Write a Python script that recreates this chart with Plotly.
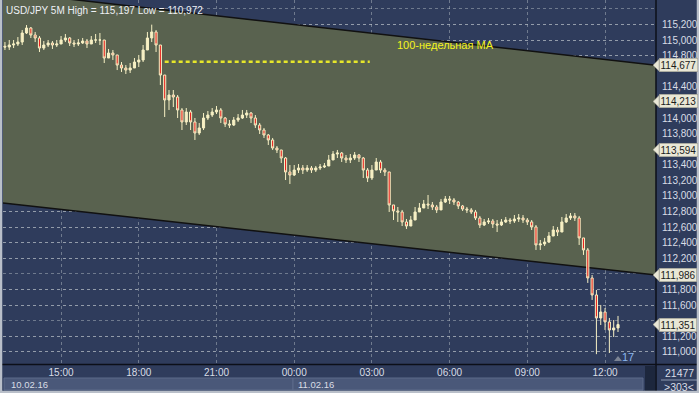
import plotly.graph_objects as go
import pandas as pd

# ---------------- data (USD/JPY, 10-minute candles) ----------------
start_time = "2016-02-10 12:50"
first_open = 114.92
close = [114.910, 114.936, 114.949, 114.974, 115.090, 115.154, 115.064, 115.026, 114.897, 114.936,
         114.962, 114.936, 114.949, 115.000, 115.026, 114.962, 114.949, 114.962, 114.987, 114.949,
         115.000, 115.000, 115.000, 114.769, 114.833, 114.808, 114.679, 114.641, 114.615, 114.641,
         114.718, 114.744, 114.872, 115.026, 115.103, 114.936, 114.551, 114.231, 114.295, 114.269,
         114.103, 113.949, 114.077, 113.949, 113.808, 113.872, 114.000, 114.038, 114.077, 114.103,
         114.000, 113.923, 113.910, 113.974, 114.000, 114.038, 114.064, 114.000, 113.910, 113.846,
         113.782, 113.718, 113.615, 113.590, 113.487, 113.308, 113.269, 113.333, 113.359, 113.333,
         113.359, 113.333, 113.359, 113.372, 113.385, 113.462, 113.538, 113.551, 113.487, 113.462,
         113.487, 113.526, 113.487, 113.333, 113.231, 113.333, 113.436, 113.333, 113.308, 112.885,
         112.808, 112.795, 112.667, 112.615, 112.692, 112.795, 112.846, 112.897, 112.885, 112.859,
         112.821, 112.923, 112.962, 112.949, 112.923, 112.872, 112.833, 112.821, 112.795, 112.718,
         112.628, 112.667, 112.679, 112.641, 112.628, 112.667, 112.692, 112.679, 112.705, 112.718,
         112.692, 112.667, 112.603, 112.372, 112.385, 112.410, 112.487, 112.564, 112.538, 112.667,
         112.718, 112.744, 112.718, 112.462, 112.308, 111.949, 111.731, 111.436, 111.513, 111.385,
         111.282, 111.308, 111.351]
high = [114.974, 115.000, 115.000, 115.038, 115.128, 115.192, 115.167, 115.103, 115.051, 114.987,
        115.000, 114.987, 115.000, 115.051, 115.077, 115.038, 115.000, 115.013, 115.026, 115.013,
        115.051, 115.077, 115.090, 115.000, 114.885, 114.872, 114.808, 114.718, 114.679, 114.705,
        114.769, 114.808, 114.936, 115.103, 115.197, 115.128, 114.936, 114.551, 114.359, 114.359,
        114.295, 114.128, 114.128, 114.103, 114.000, 113.936, 114.064, 114.090, 114.128, 114.154,
        114.128, 114.013, 113.974, 114.013, 114.051, 114.103, 114.103, 114.077, 114.038, 113.936,
        113.872, 113.795, 113.744, 113.641, 113.590, 113.500, 113.397, 113.397, 113.410, 113.397,
        113.397, 113.385, 113.385, 113.410, 113.423, 113.526, 113.577, 113.590, 113.564, 113.526,
        113.538, 113.564, 113.538, 113.500, 113.359, 113.397, 113.487, 113.462, 113.359, 113.308,
        112.885, 112.859, 112.821, 112.705, 112.744, 112.859, 112.910, 112.949, 113.013, 112.923,
        112.885, 112.962, 113.000, 113.000, 112.974, 112.936, 112.885, 112.859, 112.846, 112.821,
        112.744, 112.705, 112.718, 112.705, 112.692, 112.705, 112.731, 112.718, 112.756, 112.769,
        112.756, 112.718, 112.692, 112.628, 112.436, 112.462, 112.538, 112.615, 112.603, 112.731,
        112.769, 112.782, 112.782, 112.744, 112.462, 112.333, 111.987, 111.795, 111.603, 111.564,
        111.436, 111.410, 111.462]
low = [114.872, 114.872, 114.897, 114.923, 114.936, 115.077, 115.026, 114.974, 114.846, 114.872,
       114.910, 114.885, 114.910, 114.949, 114.974, 114.923, 114.910, 114.923, 114.949, 114.897,
       114.949, 114.962, 114.936, 114.705, 114.769, 114.744, 114.615, 114.590, 114.564, 114.577,
       114.641, 114.654, 114.718, 114.872, 114.974, 114.846, 114.423, 114.013, 114.103, 114.141,
       114.000, 113.846, 113.910, 113.846, 113.718, 113.782, 113.846, 113.974, 114.013, 114.051,
       113.936, 113.885, 113.872, 113.897, 113.949, 113.987, 114.000, 113.936, 113.872, 113.795,
       113.744, 113.654, 113.590, 113.551, 113.423, 113.205, 113.154, 113.256, 113.295, 113.282,
       113.308, 113.295, 113.308, 113.333, 113.359, 113.397, 113.462, 113.487, 113.436, 113.423,
       113.423, 113.462, 113.436, 113.231, 113.179, 113.205, 113.333, 113.295, 113.256, 112.795,
       112.692, 112.667, 112.615, 112.577, 112.628, 112.718, 112.795, 112.846, 112.833, 112.821,
       112.782, 112.859, 112.910, 112.897, 112.885, 112.833, 112.808, 112.782, 112.769, 112.692,
       112.590, 112.615, 112.641, 112.590, 112.538, 112.615, 112.654, 112.641, 112.654, 112.667,
       112.654, 112.628, 112.564, 112.308, 112.308, 112.359, 112.397, 112.500, 112.487, 112.590,
       112.654, 112.692, 112.679, 112.372, 112.244, 111.885, 111.667, 110.972, 111.346, 111.282,
       110.987, 111.192, 111.256]

levels = [114.213, 113.594]                       # red dashed horizontal levels
tag_values = [114.677, 114.213, 113.594, 111.986, 111.351]
# price-axis labels that stay visible (the others sit under the price tags)
y_tick_values = [115.2, 115.0, 114.8, 114.4, 114.0, 113.8, 113.4, 113.2, 113.0,
                 112.8, 112.6, 112.4, 112.2, 111.8, 111.6, 111.2, 111.0]
channel_times = ["2016-02-10 12:45:30", "2016-02-11 13:58:00"]
channel_upper = [115.62, 114.677]
channel_lower = [112.91, 111.986]
ma_value = 114.72
ma_times = ["2016-02-10 19:00", "2016-02-11 02:55"]
ma_label = "100-недельная МА"
title_text = "USD/JPY 5M High = 115,197 Low = 110,972"
date_labels = ["10.02.16", "11.02.16"]
bar_count_label = "17"
panel_texts = ["21477", ">303<"]

# ---------------- build ----------------
times = pd.date_range(start_time, periods=len(close), freq="10min")
opens = [first_open] + close[:-1]
highs = [max(h, o, c) for h, o, c in zip(high, opens, close)]
lows = [min(l, o, c) for l, o, c in zip(low, opens, close)]

W, H = 699, 393
ML, MR, MT, MB = 3, 43, 0, 28
PW, PH = W - ML - MR, H - MT - MB


def px(x):
    return (x - ML) / PW


def py(y):
    return (H - MB - y) / PH


NAVY = "#2f3c5c"
GREEN = "#59624f"
CREAM = "#f7f0c4"
RED = "#e8231f"
TXT = "#d9dde6"
GRID = "rgba(190,198,205,0.45)"
FONT = "Liberation Sans, Arial"

fig = go.Figure()
fig.add_trace(go.Candlestick(
    x=times, open=opens, high=highs, low=lows, close=close,
    increasing=dict(line=dict(color=CREAM, width=1), fillcolor=CREAM),
    decreasing=dict(line=dict(color=CREAM, width=1), fillcolor=RED),
    whiskerwidth=0, showlegend=False, hoverinfo="skip"))

shapes = []
d = lambda s: s.replace(" ", "_")
path = (f"M {d(channel_times[0])},{channel_upper[0]} L {d(channel_times[1])},{channel_upper[1]} "
        f"L {d(channel_times[1])},{channel_lower[1]} L {d(channel_times[0])},{channel_lower[0]} Z")
shapes.append(dict(type="path", xref="x", yref="y", path=path, fillcolor=GREEN,
                   line=dict(width=0), layer="between"))
for arr in (channel_upper, channel_lower):
    shapes.append(dict(type="line", xref="x", yref="y", x0=channel_times[0], x1=channel_times[1],
                       y0=arr[0], y1=arr[1], line=dict(color="#111111", width=1.5), layer="between"))
for lv in levels:
    shapes.append(dict(type="line", xref="paper", yref="y", x0=0, x1=1, y0=lv, y1=lv,
                       line=dict(color=RED, width=2, dash="4px,4px"), layer="between"))
shapes.append(dict(type="line", xref="x", yref="y", x0=ma_times[0], x1=ma_times[1],
                   y0=ma_value, y1=ma_value, line=dict(color="#e6e62a", width=2.5, dash="4px,3px"),
                   layer="between"))

# frame: separators and border
shapes.append(dict(type="line", xref="paper", yref="paper", x0=px(656), x1=px(656), y0=py(0), y1=py(393),
                   line=dict(color="#0c0f18", width=1.5)))
shapes.append(dict(type="line", xref="paper", yref="paper", x0=px(0), x1=px(699), y0=py(364.5), y1=py(364.5),
                   line=dict(color="#0c0f18", width=1.5)))
shapes.append(dict(type="rect", xref="paper", yref="paper", x0=px(4), x1=px(293), y0=py(378), y1=py(390),
                   fillcolor="#4a5879", line=dict(color="#5d6b8a", width=1)))
shapes.append(dict(type="rect", xref="paper", yref="paper", x0=px(293), x1=px(643), y0=py(378), y1=py(390),
                   fillcolor="#4a5879", line=dict(color="#5d6b8a", width=1)))
shapes.append(dict(type="rect", xref="paper", yref="paper", x0=px(645), x1=px(655), y0=py(366), y1=py(391),
                   fillcolor="#1d273d", line=dict(width=0)))
shapes.append(dict(type="line", xref="paper", yref="paper", x0=px(661), x1=px(697), y0=py(380), y1=py(380),
                   line=dict(color="#8e99b0", width=1)))
for (x0, y0, x1, y1) in [(1, 0, 1, 393), (698, 0, 698, 393), (0, 392, 699, 392)]:
    shapes.append(dict(type="line", xref="paper", yref="paper", x0=px(x0), x1=px(x1), y0=py(y0), y1=py(y1),
                       line=dict(color="#b9bfc9", width=2.5)))
shapes.append(dict(type="path", xref="paper", yref="paper",
                   path=f"M {px(614)},{py(361)} L {px(622)},{py(361)} L {px(618)},{py(356)} Z",
                   fillcolor="#7c8494", line=dict(width=0)))

annotations = []
for v in tag_values:
    shapes.append(dict(type="path", xref="paper", yref="y",
                       path=f"M {px(653)},{v} L {px(659)},{v + 0.075} L {px(659)},{v - 0.075} Z",
                       fillcolor="#e9e7d6", line=dict(color="#9c9a8a", width=0.5)))
    annotations.append(dict(xref="paper", yref="y", x=px(658.5), y=v, xanchor="left", yanchor="middle",
                            text=f"{v:.3f}".replace(".", ","), showarrow=False,
                            font=dict(family=FONT, size=10, color="#1b1b1b"),
                            bgcolor="#e9e7d6", bordercolor="#9c9a8a", borderwidth=0.5, borderpad=1))

annotations.append(dict(xref="paper", yref="paper", x=px(4), y=py(11), xanchor="left", yanchor="middle",
                        text=title_text, showarrow=False, font=dict(family=FONT, size=10, color="#eef1f5")))
annotations.append(dict(xref="paper", yref="paper", x=px(446), y=py(45), xanchor="center", yanchor="middle",
                        text=ma_label, showarrow=False, font=dict(family=FONT, size=11, color="#f4f41c")))
annotations.append(dict(xref="paper", yref="paper", x=px(9), y=py(384.5), xanchor="left", yanchor="middle",
                        text=date_labels[0], showarrow=False, font=dict(family=FONT, size=9.5, color=TXT)))
annotations.append(dict(xref="paper", yref="paper", x=px(296), y=py(384.5), xanchor="left", yanchor="middle",
                        text=date_labels[1], showarrow=False, font=dict(family=FONT, size=9.5, color=TXT)))
annotations.append(dict(xref="paper", yref="paper", x=px(628), y=py(357), xanchor="center", yanchor="middle",
                        text=bar_count_label, showarrow=False, font=dict(family=FONT, size=11, color="#8bb6ee")))
annotations.append(dict(xref="paper", yref="paper", x=px(679), y=py(372.5), xanchor="center", yanchor="middle",
                        text=panel_texts[0], showarrow=False, font=dict(family=FONT, size=10.5, color=TXT)))
annotations.append(dict(xref="paper", yref="paper", x=px(679), y=py(386.5), xanchor="center", yanchor="middle",
                        text=panel_texts[1], showarrow=False, font=dict(family=FONT, size=10.5, color=TXT)))

fig.update_layout(
    width=W, height=H,
    margin=dict(l=ML, r=MR, t=MT, b=MB),
    paper_bgcolor=NAVY, plot_bgcolor=NAVY,
    separators=", ",
    showlegend=False,
    shapes=shapes, annotations=annotations,
    xaxis=dict(type="date", range=channel_times, rangeslider=dict(visible=False),
               tickformat="%H:%M", dtick=3 * 3600 * 1000, tick0="2016-02-10 00:00",
               showgrid=True, gridcolor=GRID, griddash="dot", gridwidth=1,
               ticks="", tickfont=dict(family=FONT, size=10, color=TXT),
               showline=False, zeroline=False, fixedrange=True, automargin=False),
    yaxis=dict(side="right", range=[110.833, 115.513], tickmode="array", tickvals=y_tick_values,
               tickformat=".3f", showgrid=True, gridcolor=GRID, griddash="dot", gridwidth=1,
               minor=dict(dtick=0.2, tick0=111.0, showgrid=True, gridcolor=GRID, griddash="dot",
                          gridwidth=1, ticks=""),
               ticks="outside", ticklen=3, tickcolor=NAVY,
               tickfont=dict(family=FONT, size=10, color=TXT),
               showline=False, zeroline=False, fixedrange=True, automargin=False),
)

fig.write_html("out.html", config={"displayModeBar": False, "staticPlot": True},
               post_script="document.body.style.margin='0px';document.body.style.overflow='hidden';")
